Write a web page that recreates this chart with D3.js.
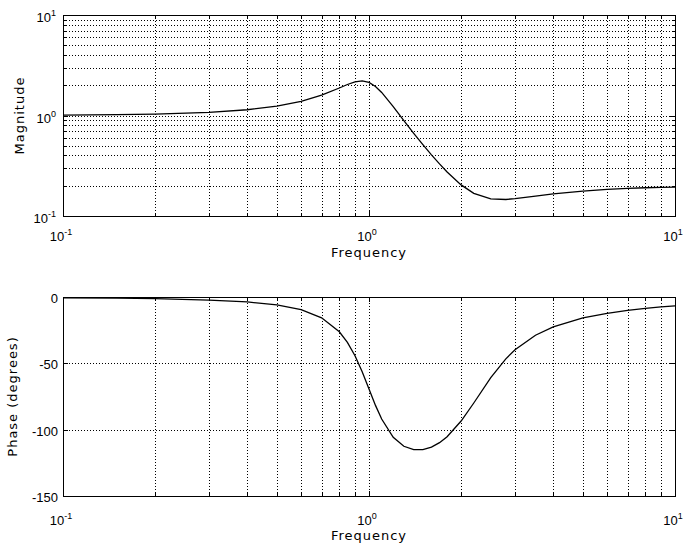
<!doctype html>
<html lang="en">
<head>
<meta charset="utf-8">
<title>Bode plot</title>
<script src="https://cdn.jsdelivr.net/npm/d3@7"></script>
<style>
body{margin:0;background:#fff;}
text{font-family:"Liberation Sans",Arial,sans-serif;fill:#000;}
.num{font-size:13px;}
.lab{font-family:"DejaVu Sans",sans-serif;font-size:13px;letter-spacing:1px;}
</style>
</head>
<body>
<svg id="chart" width="683" height="545"></svg>
<script>
// frequency response
var freq = [0.1,0.15,0.2,0.3,0.4,0.5,0.6,0.7,0.8,0.85,0.9,0.95,1.0,1.05,1.1,1.2,1.3,1.4,1.5,1.6,1.7,1.8,2.0,2.2,2.5,2.8,3.0,3.5,4.0,5.0,6.0,7.0,8.0,9.0,10.0];
var magnitude = [1.008,1.018,1.032,1.074,1.141,1.239,1.383,1.592,1.878,2.034,2.163,2.212,2.136,1.945,1.696,1.225,0.889,0.665,0.513,0.406,0.330,0.274,0.204,0.168,0.148,0.146,0.149,0.158,0.166,0.177,0.184,0.188,0.191,0.193,0.194];
var phase = [-0.6,-0.9,-1.3,-2.3,-3.7,-6.0,-9.6,-15.7,-26.2,-34.2,-44.3,-56.4,-69.4,-81.7,-92.0,-105.7,-112.5,-115.1,-115.1,-113.2,-109.8,-105.3,-93.5,-79.9,-60.8,-46.6,-39.8,-28.8,-22.5,-15.8,-12.3,-10.1,-8.6,-7.5,-6.7];
var freqTicks = [0.1,1,10];
var magTicks = [0.1,1,10];
var phaseTicks = [0,-50,-100,-150];

var svg = d3.select("#chart");
var left = 63, right = 675;

var x = d3.scaleLog().domain([0.1,10]).range([left,right]);
var yMag = d3.scaleLog().domain([0.1,10]).range([216,15]);
var yPh = d3.scaleLinear().domain([-150,0]).range([496,297]);

var allX = x.ticks();

function powLabel(t, v) {
	var e = Math.round(Math.log10(v));
	t.text("10");
	t.append("tspan").attr("dy",-6).attr("font-size","9px").text(e);
}

function panel(yScale, yTicks, yGrid, minorY, data, isLog, labelY, freqY, yTitle, titleX) {
	var top = yScale.range()[1], bottom = yScale.range()[0];
	var g = svg.append("g");

	// grid
	g.selectAll(".vg").data(allX.filter(function(d){ return d > 0.1 && d < 10; }))
		.enter().append("line")
		.attr("x1", function(d){ return Math.round(x(d))+0.5; })
		.attr("x2", function(d){ return Math.round(x(d))+0.5; })
		.attr("y1", top).attr("y2", bottom)
		.attr("stroke","#000").attr("stroke-dasharray","1,2")
		.attr("shape-rendering","crispEdges");
	g.selectAll(".hg").data(yGrid)
		.enter().append("line")
		.attr("x1", left).attr("x2", right)
		.attr("y1", function(d){ return Math.round(yScale(d))+0.5; })
		.attr("y2", function(d){ return Math.round(yScale(d))+0.5; })
		.attr("stroke","#000").attr("stroke-dasharray","1,2")
		.attr("shape-rendering","crispEdges");

	// curve
	var line = d3.line()
		.x(function(d,i){ return x(freq[i]); })
		.y(function(d){ return yScale(d); });
	g.append("path").attr("d", line(data))
		.attr("fill","none").attr("stroke","#000").attr("stroke-width",1.3);

	// box
	g.append("rect").attr("x",left+0.5).attr("y",top+0.5)
		.attr("width",right-left).attr("height",bottom-top)
		.attr("fill","none").attr("stroke","#000");

	// ticks inside
	allX.forEach(function(d){
		var len = freqTicks.indexOf(d) >= 0 ? 5 : 3;
		var px = Math.round(x(d))+0.5;
		g.append("line").attr("x1",px).attr("x2",px).attr("y1",bottom).attr("y2",bottom-len).attr("stroke","#000");
		g.append("line").attr("x1",px).attr("x2",px).attr("y1",top).attr("y2",top+len).attr("stroke","#000");
	});
	minorY.forEach(function(d){
		var len = yTicks.indexOf(d) >= 0 ? 5 : 3;
		var py = Math.round(yScale(d))+0.5;
		g.append("line").attr("x1",left).attr("x2",left+len).attr("y1",py).attr("y2",py).attr("stroke","#000");
		g.append("line").attr("x1",right).attr("x2",right-len).attr("y1",py).attr("y2",py).attr("stroke","#000");
	});

	// y tick labels
	g.selectAll(".yl").data(yTicks).enter().append("text")
		.attr("class","num")
		.attr("text-anchor","end")
		.attr("x", isLog ? 56 : 58)
		.attr("y", function(d){ return yScale(d) + (isLog ? 7 : 6); })
		.each(function(d){
			if (isLog) powLabel(d3.select(this), d);
			else d3.select(this).text(d);
		});

	// x tick labels
	g.selectAll(".xl").data(freqTicks).enter().append("text")
		.attr("class","num")
		.attr("text-anchor","middle")
		.attr("x", function(d){ return x(d) - 2; })
		.attr("y", labelY)
		.each(function(d){ powLabel(d3.select(this), d); });

	g.append("text").attr("class","lab").attr("text-anchor","middle")
		.attr("x", x(1)).attr("y", freqY).text("Frequency");

	g.append("text").attr("class","lab").attr("text-anchor","middle")
		.attr("transform","translate(" + titleX + "," + ((top+bottom)/2) + ") rotate(-90)")
		.text(yTitle);
}

var magGrid = yMag.ticks().filter(function(d){ return d > 0.1 && d < 10; });
panel(yMag, magTicks, magGrid, yMag.ticks(), magnitude, true, 241, 257, "Magnitude", 24);

var phGrid = [-50,-100];
panel(yPh, phaseTicks, phGrid, phaseTicks, phase, false, 525, 540, "Phase (degrees)", 17);
</script>
</body>
</html>
